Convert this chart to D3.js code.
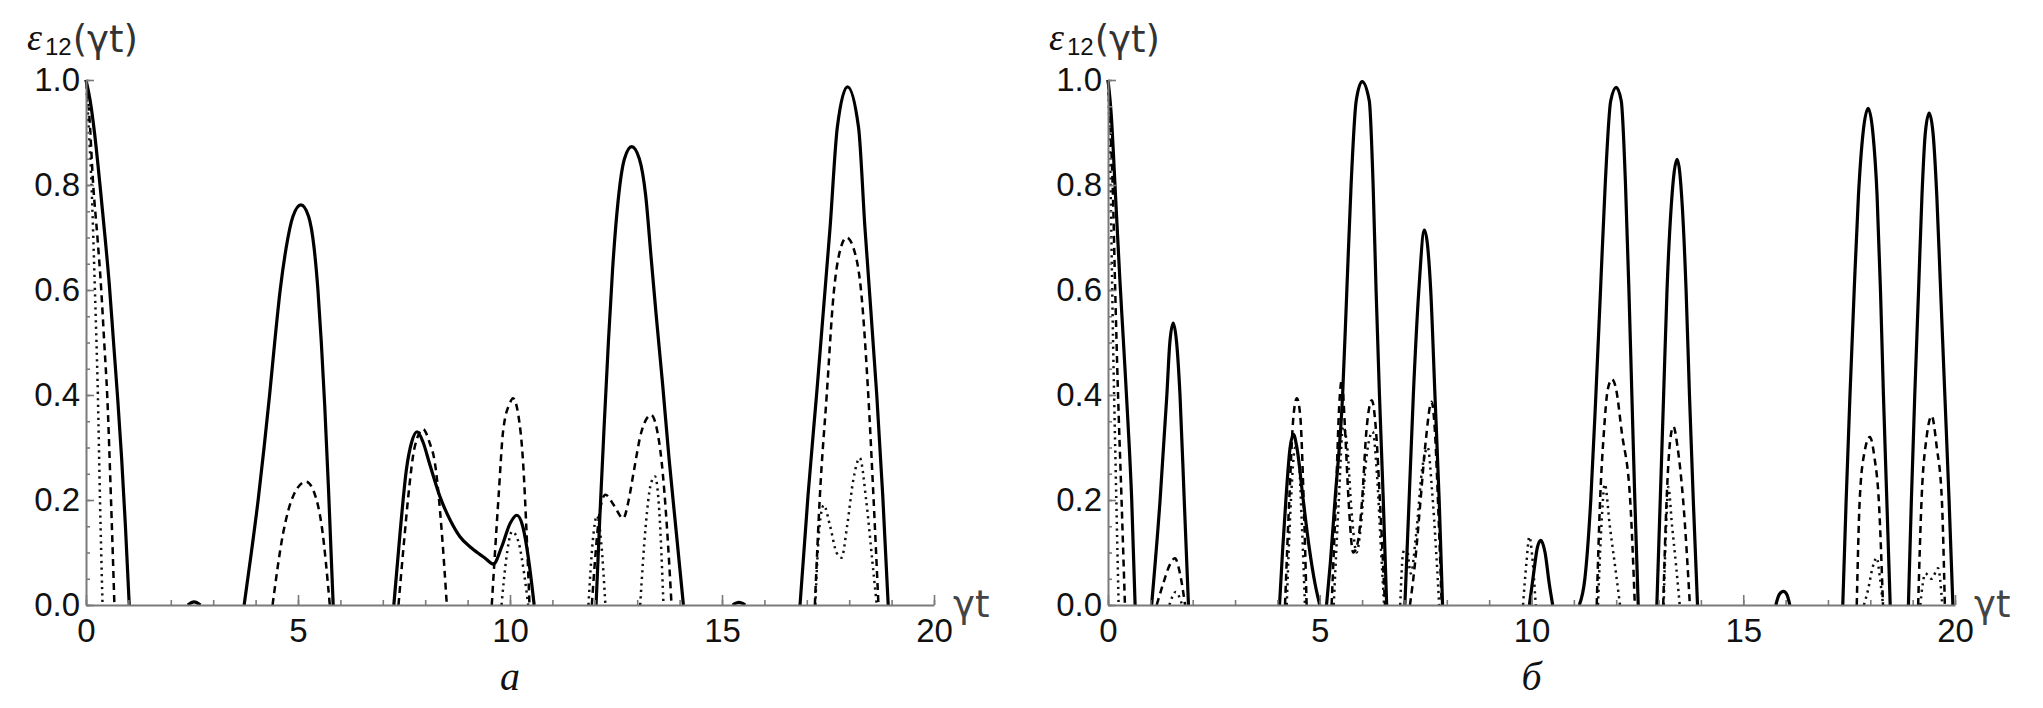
<!DOCTYPE html>
<html><head><meta charset="utf-8">
<script src="https://cdn.jsdelivr.net/npm/d3@7"></script>
<style>body{margin:0;background:#fff}</style>
</head><body>
<svg id="chart" width="2043" height="708"></svg>
<script>
// ---------------- data ----------------
const ticksX = [0, 5, 10, 15, 20];
const minorX = d3.range(0, 21, 1);
const ticksY = [0, 0.2, 0.4, 0.6, 0.8, 1.0];
const minorY = d3.range(0, 1.0001, 0.05);
const panelLabels = ["а", "б"];

// panel a
const solidA = [[0,1],[0.1,0.96],[0.2,0.9],[0.33,0.8],[0.45,0.7],[0.55,0.61],[0.65,0.5],[0.75,0.39],[0.84,0.28],[0.93,0.15],[1.02,0],
 [2.4,0],[2.55,0.006],[2.7,0],
 [3.73,0],[3.9,0.1],[4.06,0.2],[4.2,0.3],[4.33,0.4],[4.45,0.5],[4.58,0.6],[4.72,0.68],[4.88,0.74],[5.07,0.762],[5.25,0.74],[5.38,0.68],[5.47,0.6],[5.55,0.5],[5.63,0.38],[5.72,0.22],[5.83,0],
 [7.26,0],[7.41,0.14],[7.56,0.26],[7.68,0.31],[7.81,0.33],[7.95,0.31],[8.1,0.27],[8.35,0.206],[8.6,0.16],[8.82,0.13],[9.1,0.108],[9.4,0.09],[9.61,0.078],[9.8,0.11],[10.0,0.155],[10.16,0.171],[10.3,0.15],[10.45,0.08],[10.57,0],
 [12.03,0],[12.12,0.17],[12.22,0.34],[12.32,0.5],[12.42,0.64],[12.55,0.77],[12.7,0.85],[12.87,0.873],[13.05,0.85],[13.2,0.78],[13.33,0.66],[13.45,0.55],[13.6,0.42],[13.75,0.28],[13.92,0.14],[14.09,0],
 [15.25,0],[15.4,0.005],[15.55,0],
 [16.84,0],[17.03,0.21],[17.23,0.4],[17.55,0.72],[17.72,0.91],[17.96,0.987],[18.22,0.91],[18.37,0.72],[18.65,0.4],[18.79,0.21],[18.92,0]];
const dashedA = [[0,1],[0.08,0.93],[0.17,0.8],[0.27,0.7],[0.36,0.6],[0.43,0.5],[0.5,0.4],[0.59,0.2],[0.67,0],
 [4.4,0],[4.65,0.137],[4.9,0.21],[5.19,0.235],[5.4,0.21],[5.56,0.15],[5.75,0],
 [7.37,0],[7.5,0.12],[7.6,0.206],[7.75,0.3],[7.95,0.335],[8.1,0.31],[8.23,0.27],[8.39,0.14],[8.51,0],
 [9.57,0],[9.73,0.206],[9.84,0.333],[10.0,0.385],[10.07,0.394],[10.2,0.36],[10.31,0.27],[10.4,0.12],[10.46,0],
 [11.93,0],[12.02,0.1],[12.12,0.18],[12.25,0.21],[12.45,0.19],[12.67,0.165],[12.8,0.2],[12.91,0.25],[13.1,0.33],[13.33,0.362],[13.45,0.34],[13.58,0.27],[13.7,0.15],[13.81,0],
 [17.19,0],[17.31,0.21],[17.47,0.4],[17.63,0.59],[17.8,0.68],[17.94,0.7],[18.1,0.68],[18.29,0.59],[18.45,0.4],[18.57,0.21],[18.69,0]];
const dottedA = [[0,1],[0.05,0.93],[0.13,0.8],[0.21,0.6],[0.28,0.4],[0.33,0.2],[0.39,0],
 [9.8,0],[9.9,0.08],[10.05,0.14],[10.2,0.12],[10.35,0.05],[10.43,0],
 [11.85,0],[11.95,0.12],[12.05,0.17],[12.15,0.12],[12.25,0],
 [13.07,0],[13.2,0.15],[13.32,0.23],[13.42,0.245],[13.52,0.18],[13.62,0],
 [17.2,0],[17.3,0.15],[17.4,0.19],[17.55,0.15],[17.7,0.1],[17.82,0.09],[17.95,0.15],[18.1,0.24],[18.25,0.28],[18.4,0.2],[18.55,0.08],[18.65,0]];

// panel б
const solidB = [[0,1],[0.08,0.93],[0.165,0.8],[0.28,0.62],[0.38,0.48],[0.47,0.35],[0.56,0.2],[0.64,0],
 [1.03,0],[1.23,0.2],[1.39,0.4],[1.46,0.5],[1.54,0.537],[1.62,0.5],[1.7,0.4],[1.8,0.2],[1.9,0],
 [4.05,0],[4.12,0.1],[4.2,0.2],[4.3,0.3],[4.38,0.325],[4.46,0.3],[4.61,0.2],[4.75,0.11],[4.89,0.04],[5.0,0],
 [5.16,0],[5.25,0.08],[5.36,0.2],[5.54,0.4],[5.64,0.6],[5.74,0.8],[5.86,0.96],[6.0,0.997],[6.17,0.96],[6.26,0.8],[6.33,0.6],[6.41,0.4],[6.5,0.2],[6.58,0],
 [7.01,0],[7.11,0.2],[7.21,0.4],[7.34,0.6],[7.47,0.714],[7.62,0.6],[7.72,0.4],[7.82,0.2],[7.9,0],
 [9.95,0],[10.05,0.06],[10.14,0.11],[10.22,0.123],[10.32,0.1],[10.42,0.04],[10.5,0],
 [11.13,0],[11.26,0.05],[11.4,0.2],[11.52,0.4],[11.63,0.6],[11.74,0.8],[11.87,0.96],[12.0,0.986],[12.12,0.96],[12.22,0.8],[12.3,0.6],[12.37,0.4],[12.44,0.2],[12.52,0],
 [12.96,0],[13.04,0.2],[13.12,0.4],[13.2,0.6],[13.3,0.76],[13.44,0.849],[13.56,0.76],[13.65,0.6],[13.73,0.4],[13.82,0.2],[13.92,0],
 [15.77,0],[15.85,0.02],[15.95,0.026],[16.03,0.02],[16.1,0],
 [17.35,0],[17.43,0.2],[17.52,0.4],[17.62,0.6],[17.72,0.78],[17.83,0.9],[17.95,0.946],[18.06,0.9],[18.16,0.78],[18.24,0.6],[18.31,0.4],[18.39,0.2],[18.47,0],
 [18.9,0],[18.97,0.2],[19.05,0.4],[19.14,0.6],[19.22,0.78],[19.3,0.9],[19.39,0.937],[19.48,0.9],[19.57,0.78],[19.66,0.6],[19.76,0.4],[19.86,0.2],[19.95,0]];
const dashedB = [[0,1],[0.05,0.92],[0.11,0.8],[0.17,0.6],[0.23,0.42],[0.32,0.2],[0.4,0],
 [1.15,0],[1.3,0.04],[1.45,0.075],[1.58,0.089],[1.7,0.06],[1.82,0],
 [4.18,0],[4.28,0.2],[4.38,0.36],[4.46,0.394],[4.54,0.36],[4.62,0.2],[4.69,0],
 [5.28,0],[5.38,0.2],[5.46,0.38],[5.52,0.429],[5.6,0.33],[5.68,0.2],[5.79,0.1],[5.9,0.12],[6.0,0.2],[6.1,0.33],[6.23,0.39],[6.33,0.33],[6.42,0.2],[6.54,0],
 [7.13,0],[7.25,0.08],[7.37,0.19],[7.5,0.31],[7.64,0.387],[7.72,0.33],[7.8,0.18],[7.88,0],
 [11.54,0],[11.62,0.2],[11.71,0.33],[11.8,0.41],[11.9,0.43],[12.0,0.41],[12.13,0.33],[12.33,0.2],[12.44,0],
 [13.11,0],[13.19,0.2],[13.27,0.31],[13.35,0.34],[13.45,0.3],[13.58,0.2],[13.74,0],
 [17.68,0],[17.75,0.2],[17.86,0.29],[17.99,0.32],[18.1,0.28],[18.2,0.2],[18.3,0],
 [19.13,0],[19.21,0.2],[19.33,0.32],[19.45,0.36],[19.57,0.3],[19.69,0.2],[19.76,0]];
const dottedB = [[0,1],[0.05,0.85],[0.08,0.7],[0.12,0.5],[0.17,0.3],[0.21,0.15],[0.25,0],
 [1.45,0],[1.6,0.025],[1.75,0],
 [4.22,0],[4.32,0.2],[4.42,0.3],[4.5,0.28],[4.58,0.15],[4.65,0],
 [5.33,0],[5.45,0.2],[5.55,0.34],[5.65,0.3],[5.75,0.18],[5.87,0.1],[5.97,0.15],[6.1,0.28],[6.25,0.33],[6.35,0.25],[6.45,0.1],[6.52,0],
 [6.9,0],[6.97,0.1],[7.05,0.11],[7.15,0.06],[7.27,0.13],[7.42,0.26],[7.55,0.3],[7.65,0.22],[7.75,0.1],[7.82,0],
 [9.8,0],[9.88,0.08],[9.95,0.13],[10.02,0.09],[10.1,0],
 [11.57,0],[11.65,0.15],[11.73,0.23],[11.85,0.15],[11.98,0.07],[12.09,0],
 [13.12,0],[13.18,0.15],[13.23,0.225],[13.32,0.15],[13.42,0.07],[13.5,0],
 [17.85,0],[17.95,0.03],[18.05,0.07],[18.15,0.09],[18.23,0.05],[18.3,0],
 [19.18,0],[19.3,0.06],[19.45,0.05],[19.6,0.07],[19.7,0]];

// ---------------- layout ----------------
const panels = [
  {x0: 86,   x1: 934,  series: [solidA, dashedA, dottedA], label: panelLabels[0]},
  {x0: 1108, x1: 1955, series: [solidB, dashedB, dottedB], label: panelLabels[1]}
];
const yTop = 80, yBottom = 605;
const styles = [
  {w: 3.2, dash: null,   color: "#000"},
  {w: 2.5, dash: "7,5",  color: "#000"},
  {w: 2.5, dash: "2.2,4.3", color: "#111"}
];
const axisColor = "#7a7a7a";

const svg = d3.select("#chart");

function segments(pts) {
  const segs = []; let cur = [];
  for (let i = 0; i < pts.length; i++) {
    const p = pts[i];
    if (p[1] > 0) {
      if (cur.length === 0 && i > 0 && pts[i-1][1] === 0) cur.push(pts[i-1]);
      cur.push(p);
    } else if (cur.length) {
      cur.push(p); segs.push(cur); cur = [];
    }
  }
  if (cur.length) segs.push(cur);
  return segs;
}

panels.forEach(P => {
  const x = d3.scaleLinear().domain([0, 20]).range([P.x0, P.x1]);
  const y = d3.scaleLinear().domain([0, 1]).range([yBottom, yTop]);
  const g = svg.append("g");
  const line = d3.line().x(d => x(d[0])).y(d => y(d[1])).curve(d3.curveMonotoneX);

  // curves (dotted first, solid last)
  [2, 1, 0].forEach(k => {
    const st = styles[k];
    segments(P.series[k]).forEach(seg => {
      g.append("path").attr("d", line(seg))
        .attr("fill", "none").attr("stroke", st.color)
        .attr("stroke-width", st.w)
        .attr("stroke-dasharray", st.dash)
        .attr("stroke-linejoin", "round");
    });
  });

  // minor ticks
  const mx = g.append("g").attr("transform", `translate(0,${yBottom})`)
    .call(d3.axisBottom(x).tickValues(minorX).tickSize(-5).tickFormat(""));
  mx.select(".domain").remove();
  const my = g.append("g").attr("transform", `translate(${P.x0},0)`)
    .call(d3.axisLeft(y).tickValues(minorY).tickSize(-4).tickFormat(""));
  my.select(".domain").remove();

  // major axes
  const ax = g.append("g").attr("transform", `translate(0,${yBottom})`)
    .call(d3.axisBottom(x).tickValues(ticksX).tickSizeInner(-10).tickSizeOuter(0)
      .tickPadding(14).tickFormat(d3.format("d")));
  const ay = g.append("g").attr("transform", `translate(${P.x0},0)`)
    .call(d3.axisLeft(y).tickValues(ticksY).tickSizeInner(-8).tickSizeOuter(0)
      .tickPadding(6).tickFormat(d3.format(".1f")));

  [mx, my, ax, ay].forEach(a => {
    a.selectAll("line").attr("stroke", axisColor).attr("stroke-width", 1.6);
    a.select(".domain").attr("stroke", axisColor).attr("stroke-width", 2);
    a.selectAll("text").attr("font-family", "'Liberation Sans', Arial, sans-serif")
      .attr("font-size", 33).attr("fill", "#111");
  });

  // y title  ε12(γt) — three adjacent text pieces
  let tx = P.x0 - 59;
  const e = g.append("text").attr("x", tx).attr("y", 50).attr("fill", "#111")
    .attr("font-family", "'Liberation Serif', serif").attr("font-style", "italic")
    .attr("font-size", 38).text("ε");
  tx += e.node().getComputedTextLength() + 3;
  const sub = g.append("text").attr("x", tx).attr("y", 55).attr("fill", "#111")
    .attr("font-family", "'Liberation Sans', sans-serif").attr("font-size", 24).text("12");
  tx += sub.node().getComputedTextLength() + 1;
  g.append("text").attr("x", tx).attr("y", 52).attr("fill", "#333")
    .attr("font-family", "'DejaVu Sans', sans-serif").attr("font-size", 37).text("(γt)");

  // x title  γt
  g.append("text").attr("x", P.x1 + 19).attr("y", 617)
    .attr("font-family", "'DejaVu Sans', sans-serif").attr("font-size", 37)
    .attr("fill", "#444").text("γt");

  // panel label
  g.append("text").attr("x", x(10)).attr("y", 690).attr("text-anchor", "middle")
    .attr("font-family", "'Liberation Serif', serif").attr("font-style", "italic")
    .attr("font-size", 40).attr("fill", "#111").text(P.label);
});
</script>
</body></html>
